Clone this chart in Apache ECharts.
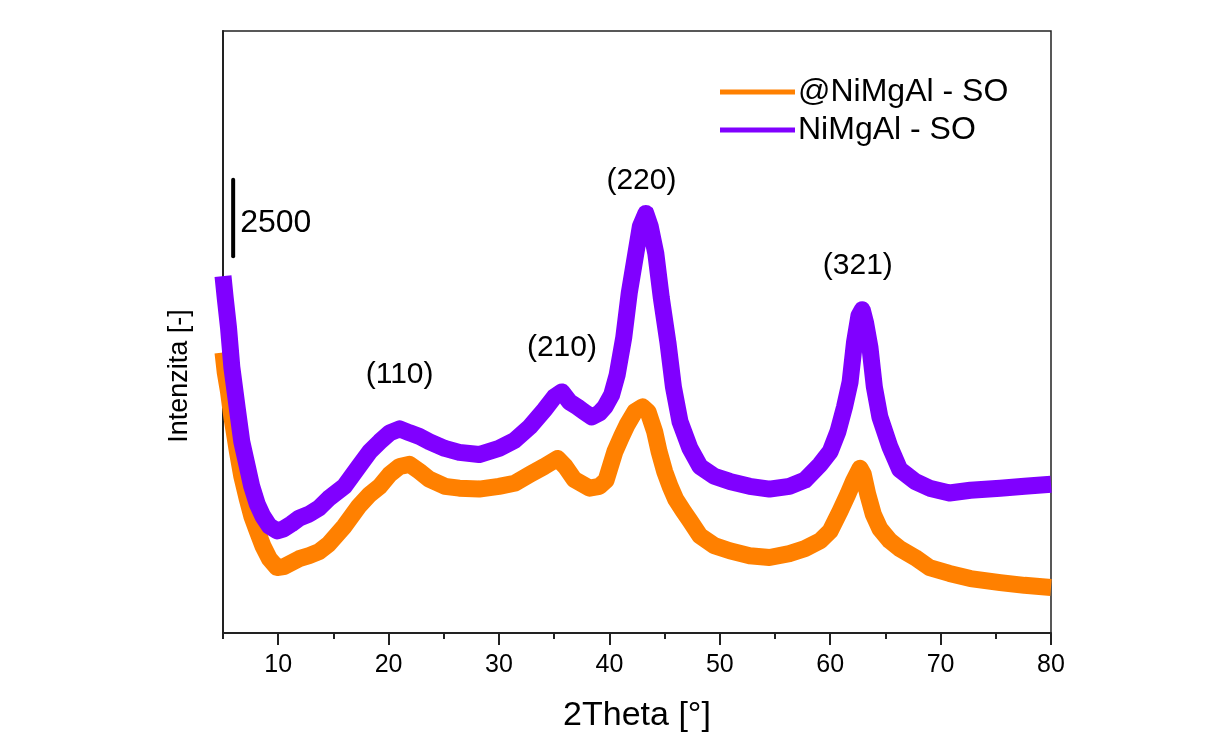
<!DOCTYPE html>
<html>
<head>
<meta charset="utf-8">
<script src="https://cdn.jsdelivr.net/npm/echarts@6/dist/echarts.min.js"></script>
<style>
html,body{margin:0;padding:0;background:#fff;}
#chart{width:1208px;height:738px;}
</style>
</head>
<body>
<div id="chart"></div>
<script>
const xTicks = [10, 20, 30, 40, 50, 60, 70, 80];
const xMinorTicks = [5, 15, 25, 35, 45, 55, 65, 75];
const seriesNames = ['@NiMgAl - SO', 'NiMgAl - SO'];
const seriesColors = ['#FF8000', '#8000FF'];

const orangeData = [
  [5.0,9180],[5.2,8530],[5.5,7890],[5.8,7070],[6.3,5940],[6.7,5130],[7.2,4380],[7.6,3830],
  [8.1,3340],[8.6,2860],[9.2,2430],[9.9,2140],[10.5,2170],[11.2,2300],[11.9,2430],[12.8,2530],
  [13.7,2660],[14.6,2920],[16.0,3500],[17.3,4150],[18.3,4540],[19.2,4800],[20.1,5190],[21.0,5450],
  [21.9,5520],[22.8,5290],[23.7,5030],[25.1,4800],[26.4,4740],[28.2,4710],[30.0,4800],[31.4,4900],
  [32.8,5190],[34.1,5450],[35.3,5710],[36.0,5450],[36.8,5030],[38.2,4740],[39.1,4800],[39.7,5000],
  [40.5,5940],[41.1,6430],[41.6,6810],[42.3,7240],[43.0,7400],[43.5,7240],[44.1,6590],[44.5,5940],
  [45.0,5290],[45.5,4800],[46.0,4380],[46.7,3990],[47.3,3670],[48.2,3180],[49.5,2860],[50.9,2690],
  [52.7,2530],[54.5,2470],[56.3,2600],[57.7,2760],[59.1,3020],[60.0,3340],[60.9,3990],[61.6,4540],
  [62.1,4960],[62.7,5390],[63.0,5190],[63.4,4540],[63.9,3890],[64.5,3410],[65.4,3020],[66.3,2760],
  [67.7,2470],[69.0,2140],[70.8,1950],[72.7,1780],[75.4,1650],[77.6,1560],[80.0,1490]
];

const purpleData = [
  [5.0,11680],[5.2,10970],[5.5,9990],[5.8,8700],[6.3,7330],[6.7,6260],[7.2,5450],[7.6,4800],
  [8.1,4220],[8.6,3830],[9.2,3500],[9.9,3340],[10.5,3410],[11.2,3570],[11.9,3760],[12.8,3890],
  [13.7,4090],[14.6,4410],[16.0,4800],[17.3,5450],[18.3,5940],[19.2,6260],[20.1,6550],[21.0,6680],
  [21.9,6550],[22.8,6430],[23.7,6260],[25.1,6040],[26.4,5910],[28.2,5840],[30.0,6040],[31.4,6300],
  [32.8,6750],[34.1,7300],[35.0,7720],[35.7,7890],[36.4,7560],[37.1,7400],[37.7,7240],[38.4,7070],
  [39.1,7200],[39.6,7400],[40.2,7790],[40.7,8440],[41.3,9670],[41.8,11130],[42.4,12430],[42.8,13300],
  [43.3,13730],[43.7,13300],[44.2,12430],[44.7,10970],[45.3,9510],[45.8,8050],[46.4,6910],[47.3,6040],
  [48.2,5450],[49.5,5130],[50.9,4960],[52.7,4800],[54.5,4710],[56.3,4800],[57.7,5000],[59.1,5520],
  [60.0,5940],[60.7,6590],[61.3,7400],[61.8,8210],[62.2,9510],[62.6,10380],[62.9,10580],[63.2,10160],
  [63.6,9350],[64.0,8050],[64.5,7070],[65.4,6100],[66.3,5350],[67.7,4960],[69.0,4740],[70.8,4580],
  [72.7,4670],[75.4,4740],[77.6,4800],[80.0,4870]
];

const peakLabels = ['(110)', '(210)', '(220)', '(321)'];
const peakPositions = [[21.0, 8440], [35.7, 9350], [42.9, 14800], [62.5, 12010]];

const scaleBarValue = '2500';
const scaleBar = [[5.92, 12330], [5.92, 14830]];
const scaleTextPos = [[6.56, 13400]];

const FONT = 'Liberation Sans, Arial, sans-serif';
const chart = echarts.init(document.getElementById('chart'), null, {renderer: 'canvas'});

const option = {
  backgroundColor: '#ffffff',
  animation: false,
  textStyle: {fontFamily: FONT, color: '#000'},
  grid: {left: 223, right: 157, top: 31, bottom: 100, show: true, borderColor: '#222', borderWidth: 1.5, backgroundColor: 'transparent'},
  legend: {
    data: seriesNames,
    orient: 'vertical',
    left: 715, top: 71,
    itemWidth: 75, itemHeight: 5, itemGap: 6,
    icon: 'rect',
    textStyle: {fontSize: 32, fontFamily: FONT, color: '#000', padding: [0, 0, 0, -2]}
  },
  xAxis: [{
    type: 'value', min: 5, max: 80,
    axisLine: {show: true, lineStyle: {color: '#222', width: 2}},
    axisTick: {show: true, customValues: xTicks, length: 12, inside: false, lineStyle: {color: '#222', width: 2}},
    axisLabel: {show: true, customValues: xTicks, fontSize: 25, margin: 20, color: '#000', fontFamily: FONT, formatter: v => String(v)},
    splitLine: {show: false},
    name: '2Theta [°]', nameLocation: 'middle', nameGap: 66,
    nameTextStyle: {fontSize: 34, color: '#000', fontFamily: FONT}
  }, {
    type: 'value', min: 5, max: 80, position: 'bottom',
    axisLine: {show: false},
    axisTick: {show: true, customValues: xMinorTicks, length: 6, inside: false, lineStyle: {color: '#222', width: 2}},
    axisLabel: {show: false, customValues: xMinorTicks},
    splitLine: {show: false}
  }],
  yAxis: {
    type: 'value', min: 0, max: 19700,
    axisLine: {show: true, lineStyle: {color: '#222', width: 2}},
    axisTick: {show: false}, axisLabel: {show: false}, splitLine: {show: false},
    name: 'Intenzita [-]', nameLocation: 'middle', nameGap: 30,
    nameTextStyle: {fontSize: 27, color: '#000', fontFamily: FONT, padding: [0, 88, 0, 0]}
  },
  series: [
    {
      name: seriesNames[0], type: 'line', data: orangeData, showSymbol: false, symbol: 'none', clip: true,
      color: seriesColors[0],
      lineStyle: {color: seriesColors[0], width: 17, join: 'round', cap: 'butt'}
    },
    {
      name: seriesNames[1], type: 'line', data: purpleData, showSymbol: false, symbol: 'none', clip: true,
      color: seriesColors[1],
      lineStyle: {color: seriesColors[1], width: 17, join: 'round', cap: 'butt'}
    },
    {
      name: 'scalebar', type: 'line', data: scaleBar, symbol: 'none',
      lineStyle: {color: '#000', width: 4, cap: 'round'}, silent: true
    },
    {
      name: 'scaletext', type: 'scatter', data: scaleTextPos, symbolSize: 0, silent: true,
      itemStyle: {opacity: 1},
      label: {show: true, position: 'right', distance: 0, formatter: () => scaleBarValue, fontSize: 32, color: '#000', opacity: 1, fontFamily: FONT}
    },
    {
      name: 'peaks', type: 'scatter', data: peakPositions, symbolSize: 0, silent: true, z: 5,
      itemStyle: {opacity: 1},
      label: {show: true, position: 'inside', formatter: p => peakLabels[p.dataIndex], fontSize: 30, color: '#000', opacity: 1, fontFamily: FONT}
    }
  ]
};
chart.setOption(option);
</script>
</body>
</html>
